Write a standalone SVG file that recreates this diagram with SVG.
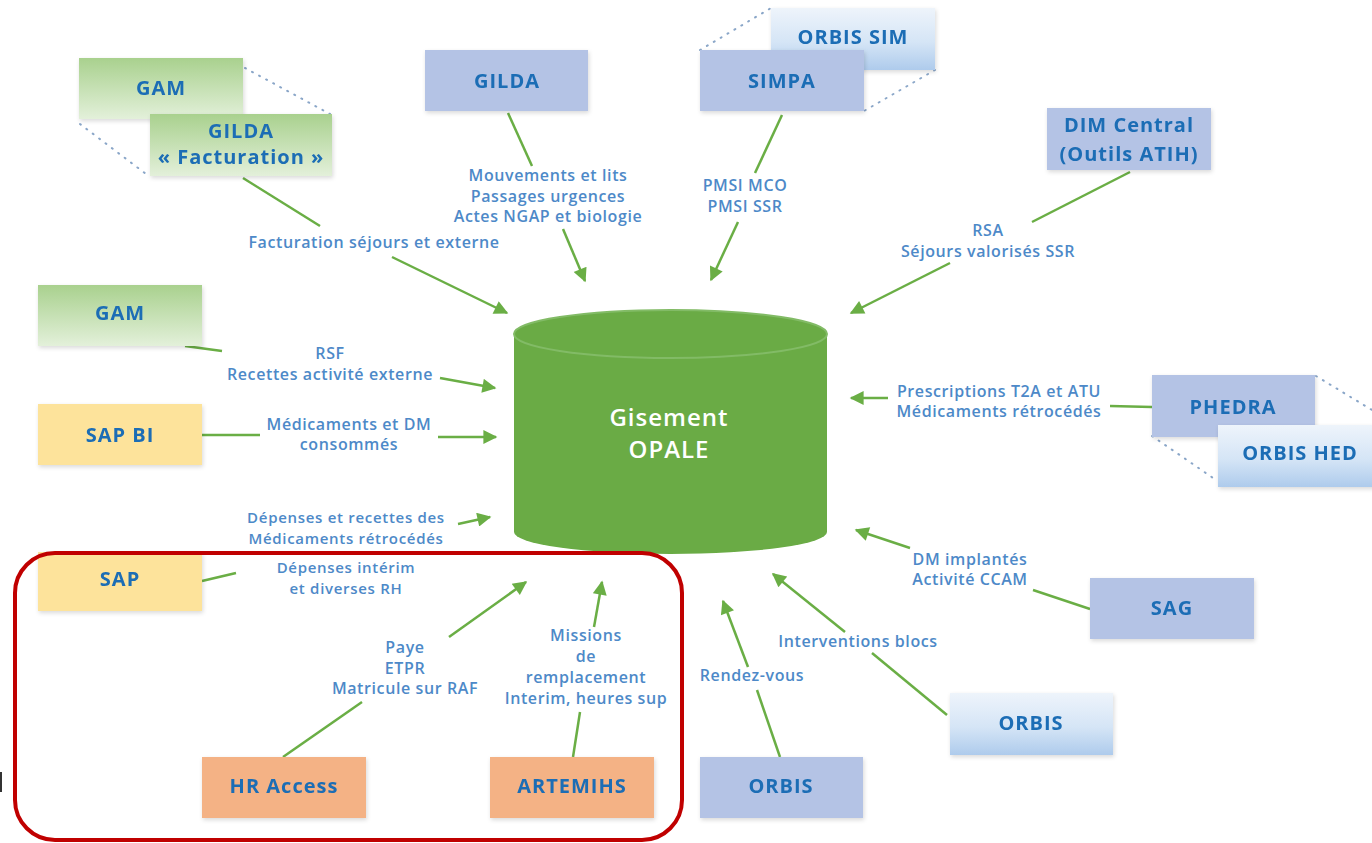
<svg xmlns="http://www.w3.org/2000/svg" width="1372" height="843" viewBox="0 0 1372 843">
<style>
.nt{font-family:"Open Sans","Liberation Sans",sans-serif;font-weight:700;font-size:20px;letter-spacing:1px;fill:#1b6db5;text-anchor:middle}
.lb{font-family:"Open Sans","Liberation Sans",sans-serif;font-weight:600;font-size:16px;letter-spacing:0.6px;fill:#4d89c8;text-anchor:middle}
.sm{font-size:15px;letter-spacing:0.7px}
.lav{fill:#b4c3e5}
.yel{fill:#fde39b}
.org{fill:#f4b285}
.grn{fill:url(#gg)}
.blu{fill:url(#bg)}
.dot{fill:none;stroke:#8aa6c8;stroke-width:2;stroke-dasharray:1 7;stroke-linecap:round}
.cn{fill:none;stroke:#6aae45;stroke-width:2.5}
.ar{marker-end:url(#ah)}
</style>
<defs>
<linearGradient id="gg" x1="0" y1="0" x2="0" y2="1">
<stop offset="0" stop-color="#a9d18e"/><stop offset="1" stop-color="#e3f0da"/>
</linearGradient>
<linearGradient id="bg" x1="0" y1="0" x2="0" y2="1">
<stop offset="0" stop-color="#eef4fb"/><stop offset="0.55" stop-color="#d5e5f6"/><stop offset="1" stop-color="#aecbec"/>
</linearGradient>
<filter id="sh" x="-10%" y="-10%" width="125%" height="130%">
<feDropShadow dx="1" dy="2" stdDeviation="2" flood-color="#000" flood-opacity="0.15"/>
</filter>
<marker id="ah" viewBox="0 0 10 10" refX="9" refY="5" markerWidth="16" markerHeight="14" markerUnits="userSpaceOnUse" orient="auto">
<path d="M0,0 L10,5 L0,10 z" fill="#6aae45"/>
</marker>
</defs>
<rect width="1372" height="843" fill="#ffffff"/>

<g id="dotted">
<path class="dot" d="M245,68 L330,114 M80,124 L150,177"/>
<path class="dot" d="M700,50 L771,8 M935,70 L864,111"/>
<path class="dot" d="M1316,376 L1372,410 M1152,436 L1216,480"/>
</g>

<g id="connectors">
<path class="cn" d="M243,178 L320,226"/>
<path class="cn ar" d="M392,257 L507,313"/>
<path class="cn" d="M508,113 L532,166"/>
<path class="cn ar" d="M563,229 L585,281"/>
<path class="cn" d="M782,115 L755,173"/>
<path class="cn ar" d="M738,222 L711,280"/>
<path class="cn" d="M1130,172 L1032,222"/>
<path class="cn ar" d="M950,263 L851,313"/>
<path class="cn" d="M185,346 L222,351"/>
<path class="cn ar" d="M440,378 L495,388"/>
<path class="cn" d="M202,435 L260,435"/>
<path class="cn ar" d="M438,437 L496,437"/>
<path class="cn ar" d="M458,524 L490,517"/>
<path class="cn" d="M202,581 L236,573"/>
<path class="cn" d="M283,757 L362,702"/>
<path class="cn ar" d="M449,637 L526,582"/>
<path class="cn" d="M573,757 L580,712"/>
<path class="cn ar" d="M594,627 L602,582"/>
<path class="cn" d="M780,757 L757,690"/>
<path class="cn ar" d="M748,667 L723,601"/>
<path class="cn" d="M947,715 L872,653"/>
<path class="cn ar" d="M845,632 L773,574"/>
<path class="cn" d="M1090,609 L1033,590"/>
<path class="cn ar" d="M910,548 L856,530"/>
<path class="cn" d="M1152,407 L1110,406"/>
<path class="cn ar" d="M888,398 L851,398"/>
</g>

<g id="opale">
<path d="M514,334 L514,532 A156.5,22 0 0 0 827,532 L827,334 Z" fill="#6aab45"/>
<ellipse cx="670.5" cy="334" rx="156.5" ry="24" fill="#6aab45" stroke="#82bb66" stroke-width="2"/>
<text class="nt" x="669" y="426" style="fill:#ffffff;font-weight:600;font-size:24px">Gisement</text>
<text class="nt" x="669" y="458" style="fill:#ffffff;font-weight:600;font-size:24px">OPALE</text>
</g>

<g id="gam-top" filter="url(#sh)"><rect class="grn" x="79" y="58" width="164" height="61"/><text class="nt" x="161" y="95">GAM</text></g>
<g id="gilda-fact" filter="url(#sh)"><rect class="grn" x="150" y="114" width="182" height="62"/><text class="nt" x="241" y="138">GILDA</text><text class="nt" x="241" y="164">« Facturation »</text></g>
<g id="gilda" filter="url(#sh)"><rect class="lav" x="425" y="50" width="163" height="61"/><text class="nt" x="507" y="88">GILDA</text></g>
<g id="orbis-sim" filter="url(#sh)"><rect class="blu" x="771" y="8" width="164" height="62"/><text class="nt" x="853" y="44">ORBIS SIM</text></g>
<g id="simpa" filter="url(#sh)"><rect class="lav" x="700" y="50" width="164" height="61"/><text class="nt" x="782" y="88">SIMPA</text></g>
<g id="dim" filter="url(#sh)"><rect class="lav" x="1047" y="108" width="164" height="62"/><text class="nt" x="1129" y="132">DIM Central</text><text class="nt" x="1129" y="161">(Outils ATIH)</text></g>
<g id="gam-left" filter="url(#sh)"><rect class="grn" x="38" y="285" width="164" height="61"/><text class="nt" x="120" y="320">GAM</text></g>
<g id="sapbi" filter="url(#sh)"><rect class="yel" x="38" y="404" width="164" height="61"/><text class="nt" x="120" y="442">SAP BI</text></g>
<g id="sap" filter="url(#sh)"><rect class="yel" x="38" y="552" width="164" height="59"/><text class="nt" x="120" y="586">SAP</text></g>
<g id="phedra" filter="url(#sh)"><rect class="lav" x="1152" y="375" width="163" height="62"/><text class="nt" x="1233" y="414">PHEDRA</text></g>
<g id="orbis-hed" filter="url(#sh)"><rect class="blu" x="1218" y="425" width="160" height="62"/><text class="nt" x="1300" y="460">ORBIS HED</text></g>
<g id="sag" filter="url(#sh)"><rect class="lav" x="1090" y="578" width="164" height="61"/><text class="nt" x="1172" y="615">SAG</text></g>
<g id="orbis-right" filter="url(#sh)"><rect class="blu" x="950" y="693" width="163" height="62"/><text class="nt" x="1031" y="730">ORBIS</text></g>
<g id="orbis-bottom" filter="url(#sh)"><rect class="lav" x="700" y="757" width="163" height="61"/><text class="nt" x="781" y="793">ORBIS</text></g>
<g id="hr-access" filter="url(#sh)"><rect class="org" x="202" y="757" width="164" height="61"/><text class="nt" x="284" y="793">HR Access</text></g>
<g id="artemihs" filter="url(#sh)"><rect class="org" x="490" y="757" width="164" height="61"/><text class="nt" x="572" y="793">ARTEMIHS</text></g>

<g id="labels">
<text class="lb" x="374" y="248">Facturation séjours et externe</text>
<text class="lb" x="548" y="181">Mouvements et lits</text>
<text class="lb" x="548" y="202">Passages urgences</text>
<text class="lb" x="548" y="222">Actes NGAP et biologie</text>
<text class="lb" x="745" y="191">PMSI MCO</text>
<text class="lb" x="745" y="212">PMSI SSR</text>
<text class="lb" x="988" y="236">RSA</text>
<text class="lb" x="988" y="257">Séjours valorisés SSR</text>
<text class="lb" x="330" y="359">RSF</text>
<text class="lb" x="330" y="380">Recettes activité externe</text>
<text class="lb" x="349" y="430">Médicaments et DM</text>
<text class="lb" x="349" y="450">consommés</text>
<text class="lb sm" x="346" y="523">Dépenses et recettes des</text>
<text class="lb sm" x="346" y="544">Médicaments rétrocédés</text>
<text class="lb sm" x="346" y="573">Dépenses intérim</text>
<text class="lb sm" x="346" y="594">et diverses RH</text>
<text class="lb" x="405" y="653">Paye</text>
<text class="lb" x="405" y="674">ETPR</text>
<text class="lb" x="405" y="694">Matricule sur RAF</text>
<text class="lb" x="586" y="641">Missions</text>
<text class="lb" x="586" y="662">de</text>
<text class="lb" x="586" y="683">remplacement</text>
<text class="lb" x="586" y="704">Interim, heures sup</text>
<text class="lb" x="999" y="397">Prescriptions T2A et ATU</text>
<text class="lb" x="999" y="417">Médicaments rétrocédés</text>
<text class="lb" x="970" y="565">DM implantés</text>
<text class="lb" x="970" y="585">Activité CCAM</text>
<text class="lb" x="858" y="647">Interventions blocs</text>
<text class="lb" x="752" y="681">Rendez-vous</text>
</g>

<g id="highlight">
<rect x="15" y="553" width="667" height="287" rx="40" ry="40" fill="none" stroke="#c00000" stroke-width="4"/>
<rect x="0" y="772" width="2" height="20" fill="#333"/>
</g>
</svg>
